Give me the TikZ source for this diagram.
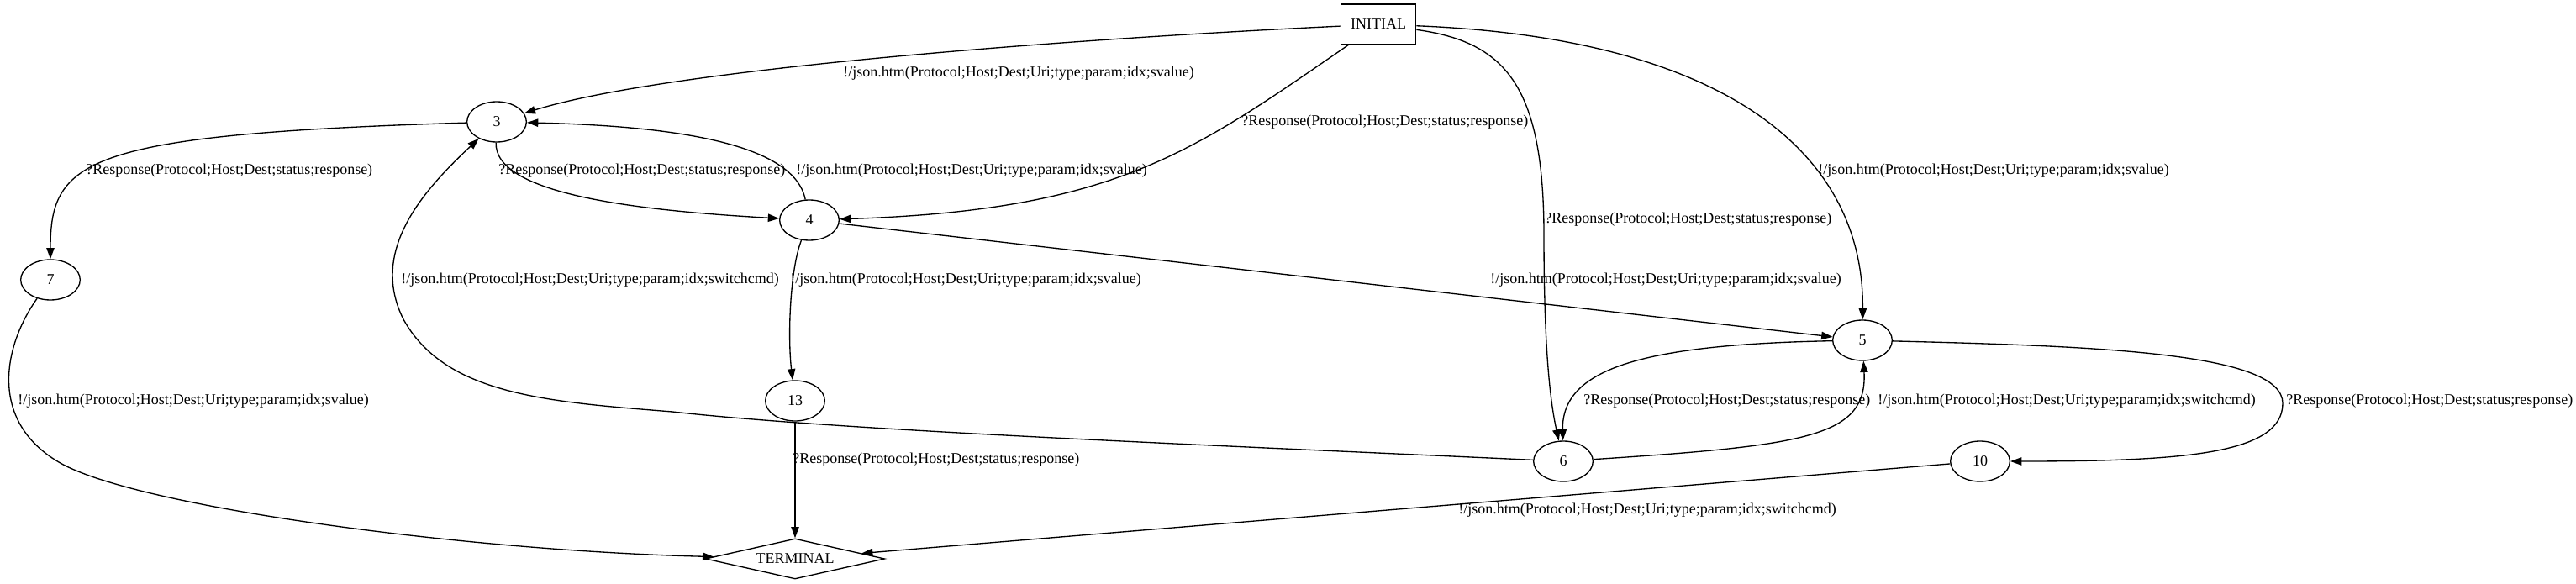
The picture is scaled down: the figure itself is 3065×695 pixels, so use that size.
\documentclass[tikz,border=0pt]{standalone}
\usepackage{fontspec}
\setmainfont{Liberation Serif}
\usetikzlibrary{shapes.geometric}
\usetikzlibrary{arrows.meta}
\newcommand{\jsonSv}{!/json.htm(Protocol;Host;Dest;Uri;type;param;idx;svalue)}
\newcommand{\jsonSw}{!/json.htm(Protocol;Host;Dest;Uri;type;param;idx;switchcmd)}
\newcommand{\respLbl}{?Response(Protocol;Host;Dest;status;response)}
\tikzset{
  stateNode/.style={draw, ellipse, line width=1pt, minimum width=53pt, minimum height=36pt, inner sep=0pt},
  startNode/.style={draw, rectangle, line width=1pt, minimum width=67pt, minimum height=36pt, inner sep=0pt},
  endNode/.style={draw, diamond, aspect=4.44, line width=1pt, minimum width=160pt, minimum height=36pt, inner sep=0pt},
  trans/.style={line width=1pt, -{Triangle[length=10pt,width=7pt]}},
  edgeLbl/.style={anchor=west, inner sep=0pt}
}

\begin{document}
\begin{tikzpicture}[x=0.75pt, y=-0.75pt, font=\fontsize{13.5pt}{16pt}\selectfont]
\useasboundingbox (0,0) rectangle (3065,695);
% states
\node[startNode] (init) at (1640,29) {INITIAL};
\node[stateNode] (n3) at (591,145) {3};
\node[stateNode] (n4) at (963,262) {4};
\node[stateNode] (n7) at (60,333) {7};
\node[stateNode] (n13) at (946,477) {13};
\node[stateNode] (n5) at (2216,405) {5};
\node[stateNode] (n6) at (1860,549) {6};
\node[stateNode] (n10) at (2356,549) {10};
\node[endNode] (term) at (946,665) {TERMINAL};

% from INITIAL
\draw[trans] (init) .. controls (1300,45) and (800,80) .. (n3);
\draw[trans] (init) .. controls (1420,180) and (1330,250) .. (n4);
\draw[trans] (init) .. controls (1790,50) and (1837,100) .. (1837,280) .. controls (1837,420) and (1845,480) .. (n6);
\draw[trans] (init) .. controls (2050,45) and (2218,180) .. (n5);
% from 3 and 4
\draw[trans] (n3) .. controls (100,160) and (60,190) .. (n7);
\draw[trans] (n3) .. controls (588,230) and (750,250) .. (n4);
\draw[trans] (n4) .. controls (945,170) and (800,150) .. (n3);
\draw[trans] (n4) .. controls (940,320) and (937,400) .. (n13);
\draw[trans] (n4) -- (n5);
% from 5 and 6
\draw[trans] (n6) .. controls (1400,528) and (1000,512) .. (800,490) .. controls (650,478) and (530,470) .. (480,380) .. controls (440,300) and (500,230) .. (n3);
\draw[trans] (n5) .. controls (1950,410) and (1858,440) .. (n6);
\draw[trans] (n6) .. controls (2150,530) and (2222,520) .. (n5);
\draw[trans] (n5) .. controls (2500,412) and (2716,420) .. (2716,480) .. controls (2716,540) and (2600,549) .. (n10);
% to TERMINAL
\draw[trans] (n10) -- (term);
\draw[trans] (n13) -- (term);
\draw[trans] (n7) .. controls (5,410) and (-15,500) .. (70,550) .. controls (160,603) and (550,655) .. (term);

% labels
\node[edgeLbl] (l1) at (1003,87) {\jsonSv};
\node[edgeLbl] (l2) at (1477,145) {\respLbl};
\node[edgeLbl] (l3) at (1838,261) {\respLbl};
\node[edgeLbl] (l4) at (2163,203) {\jsonSv};
\node[edgeLbl] (l5) at (102,203) {\respLbl};
\node[edgeLbl] (l6) at (593,203) {\respLbl};
\node[edgeLbl] (l7) at (947,203) {\jsonSv};
\node[edgeLbl] (l8) at (940,333) {\jsonSv};
\node[edgeLbl] (l9) at (1773,333) {\jsonSv};
\node[edgeLbl] (l10) at (477,333) {\jsonSw};
\node[edgeLbl] (l11) at (1884,477) {\respLbl};
\node[edgeLbl] (l12) at (2234,477) {\jsonSw};
\node[edgeLbl] (l13) at (2720,477) {\respLbl};
\node[edgeLbl] (l14) at (1735,607) {\jsonSw};
\node[edgeLbl] (l15) at (943,547) {\respLbl};
\node[edgeLbl] (l16) at (21,477) {\jsonSv};
\end{tikzpicture}
\end{document}
